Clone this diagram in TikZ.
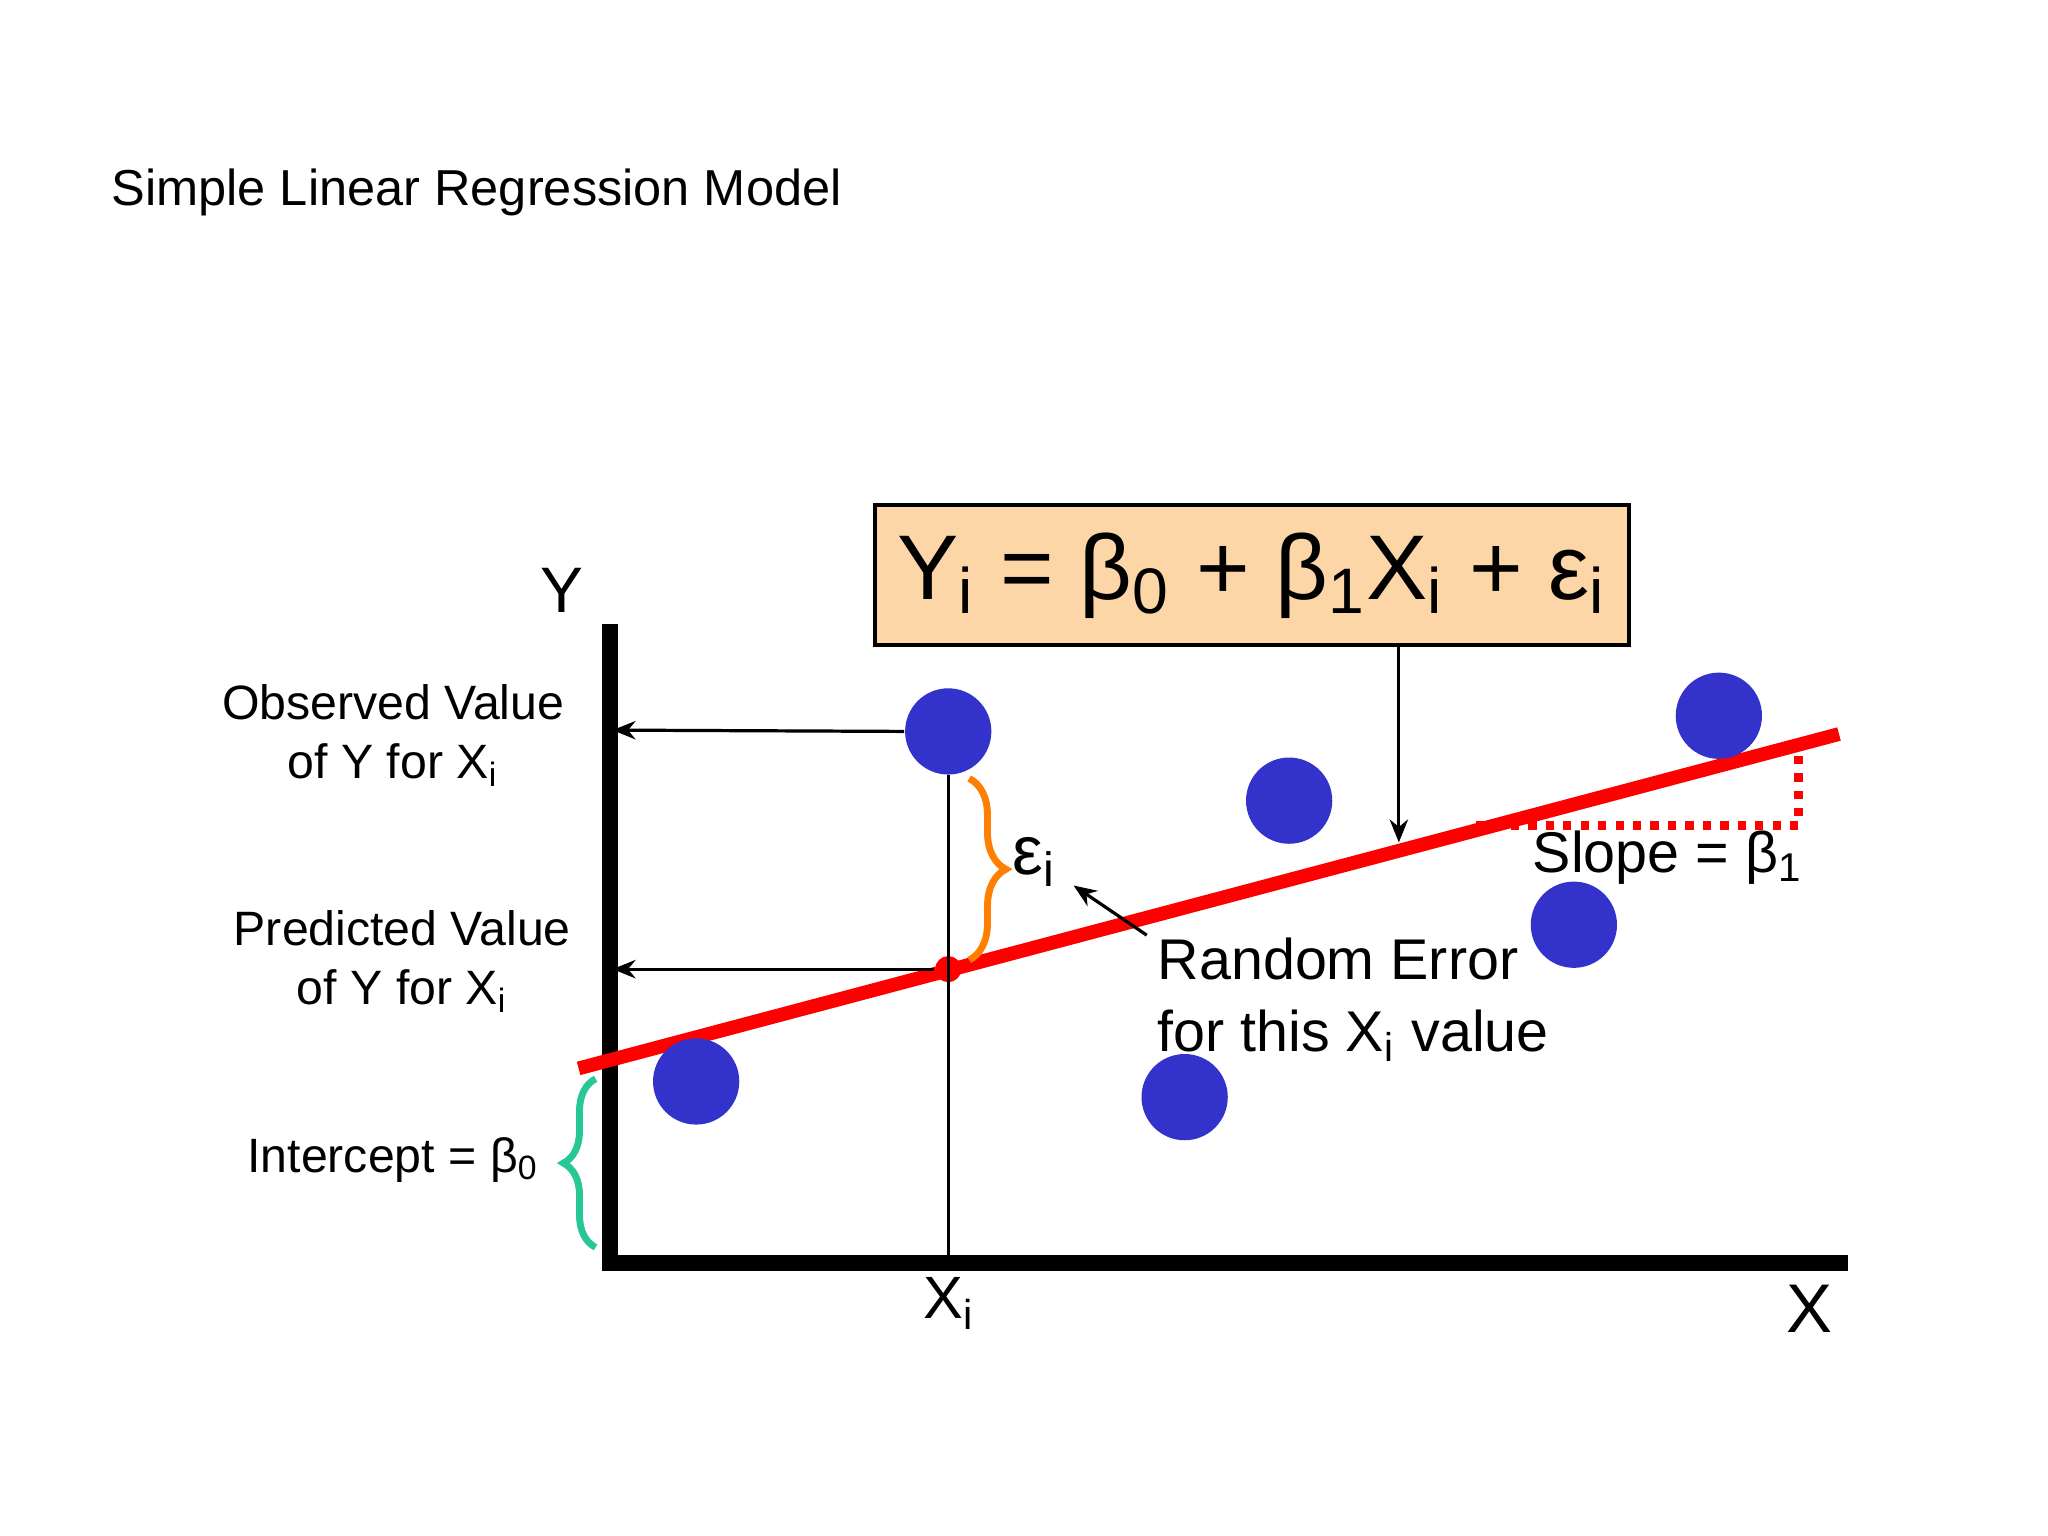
\documentclass[tikz,border=0pt]{standalone}
\usepackage{fontspec}
\setmainfont{Liberation Sans}
\usetikzlibrary{decorations.pathreplacing,arrows.meta}
\definecolor{dotblue}{RGB}{51,51,204}
\definecolor{boxfill}{RGB}{252,214,166}
\definecolor{bracegreen}{RGB}{40,200,150}
\tikzset{
 dot/.style={circle,fill=dotblue,minimum size=0.66cm,inner sep=0},
 lab/.style={font=\fontsize{10.5}{13}\selectfont,align=center},
 harrow/.style={-{Stealth[length=5pt,width=4pt]},line width=0.7pt}
}
\begin{document}
\begin{tikzpicture}[x=0.01cm,y=-0.01cm]
\useasboundingbox (0,0) rectangle (1568,1176);
\node[anchor=west,font=\fontsize{11}{13}\selectfont] (title) at (73,147) {Simple Linear Regression Model};
% axes
\coordinate (o) at (467,967);
\coordinate (ytop) at (467,478);
\coordinate (xend) at (1415,967);
\draw[line width=3.5pt] (ytop) -- (o) -- (xend);
\node[font=\fontsize{14}{16}\selectfont] (ylab) at (430,452) {Y};
\node[font=\fontsize{15}{16}\selectfont] (xlab) at (1385,1002) {X};
\node[font=\fontsize{13}{16}\selectfont] (xilab) at (727,998) {X\textsubscript{i}};
% equation box
\node[draw,fill=boxfill,line width=0.9pt,minimum width=5.77cm,minimum height=1.07cm,inner sep=2pt,font=\fontsize{20}{24}\selectfont] (eq) at (958.5,440.5)
 {Y\textsubscript{i} = β\textsubscript{0} + β\textsubscript{1}X\textsubscript{i} + ε\textsubscript{i}};
\coordinate (eqa) at (1071,494);
\coordinate (eqb) at (1071,645);
\draw[harrow] (eqa) -- (eqb);
% regression line
\coordinate (l1) at (443,818);
\coordinate (l2) at (1408,562);
\draw[red,line width=3pt] (l1) -- (l2);
\coordinate (s1) at (1130,632);
\coordinate (s2) at (1377,632);
\coordinate (s3) at (1377,578);
\draw[red,dotted,line width=1.8pt] (s1) -- (s2) -- (s3);
\node[font=\fontsize{12.5}{15}\selectfont] (slope) at (1277,657) {Slope = β\textsubscript{1}};
% points
\node[dot] (d1) at (726,560) {};
\node[dot] (d2) at (987,613) {};
\node[dot] (d3) at (1316,548) {};
\node[dot] (d4) at (1205,708) {};
\node[dot] (d5) at (907,840) {};
\node[dot] (d6) at (533,828) {};
\node[circle,fill=red,minimum size=0.2cm,inner sep=0] (pred) at (726,742) {};
\coordinate (xi) at (726,967);
\draw[line width=0.7pt] (d1.south) -- (xi);
\coordinate (ya) at (469,559);
\coordinate (yb) at (469,742);
\draw[harrow] (d1.west) -- (ya);
\draw[harrow] (pred) -- (yb);
% error brace
\coordinate (b1) at (742,596);
\coordinate (b2) at (742,735);
\draw[orange,line width=1.5pt,decorate,decoration={brace,amplitude=8pt}] (b1) -- (b2);
\node[font=\fontsize{15}{16}\selectfont] (eps) at (792,660) {ε\textsubscript{i}};
\coordinate (r1) at (878,716);
\coordinate (r2) at (822,678);
\draw[harrow] (r1) -- (r2);
\node[anchor=north west,align=left,font=\fontsize{12.5}{15.5}\selectfont] (rand) at (874,706) {Random Error\\for this X\textsubscript{i} value};
% labels
\node[lab] (obs) at (301,563) {Observed Value\\of Y for X\textsubscript{i}};
\node[lab] (prd) at (308,736) {Predicted Value\\of Y for X\textsubscript{i}};
\node[lab,anchor=east] (icp) at (425,888) {Intercept = β\textsubscript{0}};
\coordinate (g1) at (456,955);
\coordinate (g2) at (456,826);
\draw[bracegreen,line width=1.5pt,decorate,decoration={brace,amplitude=7pt}] (g1) -- (g2);
\end{tikzpicture}
\end{document}
